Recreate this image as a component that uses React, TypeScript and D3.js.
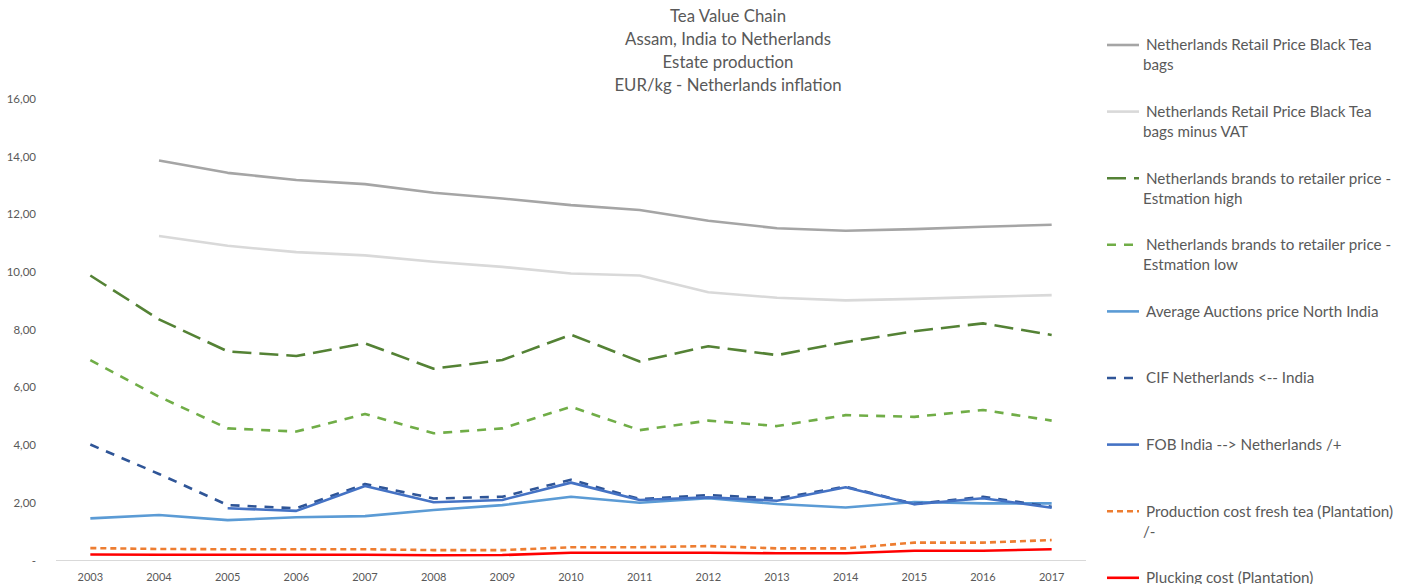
import React from "react";
import * as d3 from "d3";

const years = ["2003","2004","2005","2006","2007","2008","2009","2010","2011","2012","2013","2014","2015","2016","2017"];

const retail = [null, 13.87, 13.44, 13.19, 13.05, 12.75, 12.55, 12.32, 12.15, 11.78, 11.52, 11.43, 11.49, 11.57, 11.64];
const retailMinusVat = [null, 11.25, 10.91, 10.69, 10.58, 10.36, 10.18, 9.95, 9.88, 9.30, 9.11, 9.02, 9.07, 9.14, 9.20];
const brandsHigh = [9.88, 8.36, 7.25, 7.09, 7.53, 6.65, 6.95, 7.83, 6.90, 7.43, 7.12, 7.57, 7.95, 8.22, 7.82];
const brandsLow = [6.95, 5.68, 4.58, 4.47, 5.08, 4.41, 4.58, 5.33, 4.52, 4.85, 4.66, 5.04, 4.98, 5.22, 4.85];
const auction = [1.46, 1.58, 1.40, 1.50, 1.54, 1.75, 1.92, 2.21, 2.00, 2.16, 1.96, 1.84, 2.03, 1.98, 1.98];
const cif = [4.02, 3.0, 1.92, 1.81, 2.65, 2.15, 2.21, 2.80, 2.13, 2.27, 2.15, 2.56, 1.96, 2.21, 1.86];
const fob = [null, null, 1.81, 1.72, 2.58, 2.02, 2.10, 2.70, 2.10, 2.19, 2.07, 2.54, 1.95, 2.16, 1.83];
const production = [0.43, 0.40, 0.39, 0.39, 0.39, 0.36, 0.36, 0.46, 0.46, 0.50, 0.42, 0.42, 0.62, 0.62, 0.71];
const plucking = [0.21, 0.20, 0.20, 0.20, 0.20, 0.18, 0.19, 0.27, 0.27, 0.27, 0.25, 0.25, 0.34, 0.34, 0.39];

const yTicks = [0, 2, 4, 6, 8, 10, 12, 14, 16];
const titleLines = ["Tea Value Chain", "Assam, India to Netherlands", "Estate production", "EUR/kg - Netherlands inflation"];

const series = [
  { name: ["Netherlands Retail Price Black Tea", "bags"], values: retail, color: "#A5A5A5", dash: null },
  { name: ["Netherlands Retail Price Black Tea", "bags minus VAT"], values: retailMinusVat, color: "#D9D9D9", dash: null },
  { name: ["Netherlands brands to retailer price -", "Estmation high"], values: brandsHigh, color: "#548235", dash: "19 8" },
  { name: ["Netherlands brands to retailer price -", "Estmation low"], values: brandsLow, color: "#70AD47", dash: "9 8" },
  { name: ["Average Auctions price North India"], values: auction, color: "#5B9BD5", dash: null },
  { name: ["CIF Netherlands <-- India"], values: cif, color: "#2F5597", dash: "9 8" },
  { name: ["FOB India --> Netherlands /+"], values: fob, color: "#4472C4", dash: null },
  { name: ["Production cost fresh tea (Plantation)", "/-"], values: production, color: "#ED7D31", dash: "6 4" },
  { name: ["Plucking cost (Plantation)"], values: plucking, color: "#FF0000", dash: null },
];

const drawOrder = [0, 1, 2, 3, 4, 7, 8, 5, 6];

export default function App() {
  const W = 1408, H = 584;
  const x = d3.scaleBand().domain(years).range([56, 1086]).padding(0);
  const y = d3.scaleLinear().domain([0, 16]).range([560.5, 99]);
  const cx = (yr: string) => (x(yr) as number) + x.bandwidth() / 2;
  const font = "Lato, 'Open Sans', sans-serif";
  const textColor = "#595959";

  const line = d3.line<number | null>()
    .defined((d) => d !== null)
    .x((_, i) => cx(years[i]))
    .y((d) => y(d as number))
    .curve(d3.curveLinear);

  return (
    <svg width={W} height={H} style={{ position: "absolute", left: 0, top: 0, background: "#fff" }} fontFamily={font}>
      {titleLines.map((t, i) => (
        <text key={t} x={728} y={16 + i * 23} dy="0.35em" textAnchor="middle" fontSize={16.8} fill={textColor}>{t}</text>
      ))}
      {yTicks.map((t) => (
        <text key={t} x={36} y={y(t)} dy="0.35em" textAnchor="end" fontSize={11.5} fill={textColor}>
          {t === 0 ? "-" : d3.format(".2f")(t).replace(".", ",")}
        </text>
      ))}
      <line x1={56} x2={1086} y1={y(0)} y2={y(0)} stroke="#D9D9D9" strokeWidth={1} />
      {years.map((yr) => (
        <text key={yr} x={cx(yr)} y={577} dy="0.35em" textAnchor="middle" fontSize={11} fill={textColor}>{yr}</text>
      ))}
      {drawOrder.map((i) => {
        const s = series[i];
        return (
          <path key={i} d={line(s.values as (number | null)[]) || ""} fill="none" stroke={s.color}
            strokeWidth={2.6} strokeDasharray={s.dash || undefined} strokeLinejoin="round" />
        );
      })}
      {series.map((s, i) => {
        const ly = 45 + i * 66.6;
        return (
          <g key={i}>
            <line x1={1107} x2={1139} y1={ly} y2={ly} stroke={s.color} strokeWidth={2.6} strokeDasharray={s.dash || undefined} />
            {s.name.map((n, j) => (
              <text key={j} x={j === 0 ? 1146 : 1143} y={ly + j * 20} dy="0.35em" fontSize={15.2} fill={textColor}>{n}</text>
            ))}
          </g>
        );
      })}
    </svg>
  );
}
